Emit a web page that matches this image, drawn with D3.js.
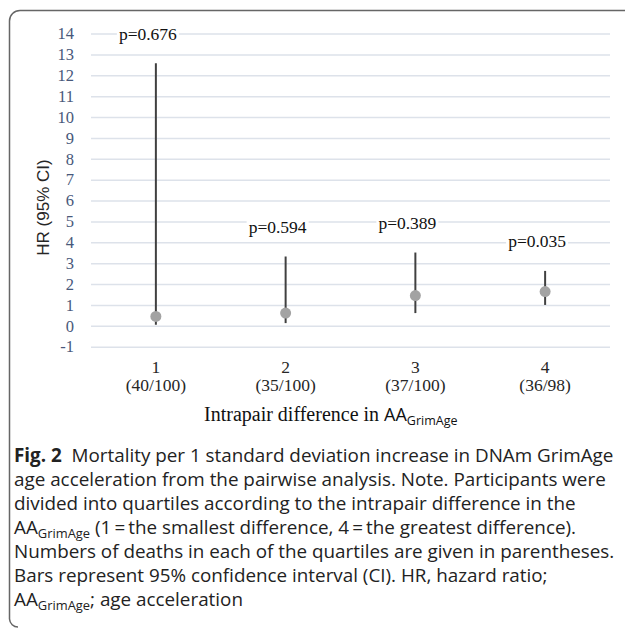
<!DOCTYPE html>
<html>
<head>
<meta charset="utf-8">
<script src="https://cdn.jsdelivr.net/npm/d3@7"></script>
<style>
  body { margin: 0; background: #fff; }
  svg { display: block; }
  .tick line { stroke: #dde2ea; stroke-width: 1.5; }
</style>
</head>
<body>
<svg id="fig"></svg>
<script>
// values
var quartiles = ["1", "2", "3", "4"];
var deaths = ["(40/100)", "(35/100)", "(37/100)", "(36/98)"];
var hr = [0.45, 0.61, 1.45, 1.64];
var ciLow = [0.05, 0.13, 0.61, 1.0];
var ciHigh = [12.58, 3.32, 3.51, 2.63];
var pValues = ["p=0.676", "p=0.594", "p=0.389", "p=0.035"];
var yTicks = [-1, 0, 1, 2, 3, 4, 5, 6, 7, 8, 9, 10, 11, 12, 13, 14];

var captionLines = [
    [["b", "Fig. 2"], ["n", "  Mortality per 1 standard deviation increase in DNAm GrimAge"]],
    [["n", "age acceleration from the pairwise analysis. Note. Participants were"]],
    [["n", "divided into quartiles according to the intrapair difference in the"]],
    [["n", "AA"], ["s", "GrimAge"], ["n", " (1\u2009=\u2009the smallest difference, 4\u2009=\u2009the greatest difference)."]],
    [["n", "Numbers of deaths in each of the quartiles are given in parentheses."]],
    [["n", "Bars represent 95% confidence interval (CI). HR, hazard ratio;"]],
    [["n", "AA"], ["s", "GrimAge"], ["n", "; age acceleration"]]
];

var makeTranslateString = function(x, y)
{
    return "translate(" + x + "," + y + ")";
}

var serif = "'Liberation Serif', 'Times New Roman', serif";
var sans = "'Liberation Sans', Arial, sans-serif";
var capFont = "'Open Sans', 'Noto Sans', sans-serif";

var drawFrame = function(svg, screen)
{
    svg.append("path")
        .attr("d", "M18," + (screen.height - 1) + " A8.5,8.5 0 0 1 9.5," + (screen.height - 9) +
              " L9.5,21 A10.5,10.5 0 0 1 20,10.5 L" + screen.width + ",10.5")
        .attr("fill", "none")
        .attr("stroke", "#666")
        .attr("stroke-width", 1.5);
}

var drawAxes = function(target, graph, xScale, yScale)
{
    var yAxis = d3.axisLeft(yScale)
        .tickValues(yTicks)
        .tickFormat(function(d) { return String(d); })
        .tickSize(-graph.width)
        .tickPadding(17);

    var yg = target.append("g").call(yAxis);
    yg.select(".domain").remove();
    yg.selectAll(".tick text")
        .attr("font-family", serif)
        .attr("font-size", 16.5)
        .attr("fill", "#48587a");

    var xAxis = d3.axisBottom(xScale).tickSize(0);
    var xg = target.append("g")
        .attr("transform", makeTranslateString(0, graph.height))
        .call(xAxis);
    xg.select(".domain").remove();
    xg.selectAll(".tick line").remove();
    xg.selectAll(".tick text")
        .attr("y", null)
        .attr("dy", null)
        .attr("font-family", serif)
        .attr("font-size", 17.5)
        .attr("fill", "#262626")
        .text(null)
        .each(function(q, i)
        {
            var t = d3.select(this);
            t.append("tspan").attr("x", 0).attr("y", 26.6).text(q);
            t.append("tspan").attr("x", 0).attr("y", 44).text(deaths[i]);
        });
}

var drawIntervals = function(target, xScale, yScale)
{
    var rows = quartiles.map(function(q, i)
    {
        return {q: q, hr: hr[i], lo: ciLow[i], hi: ciHigh[i], p: pValues[i]};
    });
    var cx = function(d) { return xScale(d.q) + xScale.bandwidth() / 2; };

    target.selectAll("line.ci")
        .data(rows)
        .enter()
        .append("line")
        .classed("ci", true)
        .attr("x1", cx)
        .attr("x2", cx)
        .attr("y1", function(d) { return yScale(d.lo); })
        .attr("y2", function(d) { return yScale(d.hi); })
        .attr("stroke", "#404040")
        .attr("stroke-width", 2);

    target.selectAll("circle")
        .data(rows)
        .enter()
        .append("circle")
        .attr("cx", cx)
        .attr("cy", function(d) { return yScale(d.hr); })
        .attr("r", 5.5)
        .attr("fill", "#a3a3a3");

    var labels = target.selectAll("g.plab")
        .data(rows)
        .enter()
        .append("g")
        .classed("plab", true)
        .attr("transform", function(d)
        {
            return makeTranslateString(cx(d) - 8, yScale(d.hi) - 29);
        });
    labels.append("rect")
        .attr("x", -31)
        .attr("y", -9)
        .attr("width", 62)
        .attr("height", 18)
        .attr("fill", "#fff");
    labels.append("text")
        .text(function(d) { return d.p; })
        .attr("text-anchor", "middle")
        .attr("y", 5.5)
        .attr("font-family", serif)
        .attr("font-size", 17.5)
        .attr("fill", "#111");
}

var drawLabels = function(svg, margins, graph)
{
    svg.append("text")
        .text("HR (95% CI)")
        .attr("text-anchor", "middle")
        .attr("dominant-baseline", "central")
        .attr("transform", "translate(43,207.5) rotate(270)")
        .attr("font-family", sans)
        .attr("font-size", 17)
        .attr("fill", "#262626");

    var xt = svg.append("text")
        .attr("x", 204)
        .attr("y", 421)
        .attr("fill", "#111");
    xt.append("tspan")
        .attr("font-family", serif)
        .attr("font-size", 20)
        .text("Intrapair difference in ");
    xt.append("tspan")
        .attr("font-family", capFont)
        .attr("font-size", 18)
        .text("AA");
    xt.append("tspan")
        .attr("font-family", capFont)
        .attr("font-size", 12.5)
        .attr("dy", 4)
        .text("GrimAge");
}

var drawCaption = function(svg)
{
    var cap = svg.append("g").classed("caption", true);
    var texts = cap.selectAll("text")
        .data(captionLines)
        .enter()
        .append("text")
        .attr("font-family", capFont)
        .attr("font-size", 19)
        .attr("fill", "#222")
        .attr("xml:space", "preserve");

    texts.each(function(parts)
    {
        var t = d3.select(this);
        var sub = false;
        parts.forEach(function(p)
        {
            var s = t.append("tspan").text(p[1]);
            if (p[0] == "b") s.attr("font-weight", "bold");
            if (p[0] == "s") { s.attr("font-size", 13).attr("dy", 4); sub = true; }
            else if (sub) { s.attr("dy", -4); sub = false; }
        });
    });

    // squeeze the sans face to the narrow width of the journal font
    var natural = texts.nodes()[0].getComputedTextLength();
    var k = 600 / natural;
    texts.attr("transform", function(d, i)
    {
        return makeTranslateString(14, 462 + i * 24) + " scale(" + k + ",1)";
    });
}

var initGraph = function()
{
    var screen = {width: 625, height: 628};
    var margins = {left: 91, right: 15, top: 33.5, bottom: 281.3};
    var graph =
        {
            width: screen.width - margins.left - margins.right,
            height: screen.height - margins.top - margins.bottom
        };

    var svg = d3.select("#fig")
        .attr("width", screen.width)
        .attr("height", screen.height);

    drawFrame(svg, screen);

    var target = svg.append("g")
        .attr("transform", makeTranslateString(margins.left, margins.top));

    var xScale = d3.scaleBand()
        .domain(quartiles)
        .range([0, graph.width]);

    var yScale = d3.scaleLinear()
        .domain([-1, 14])
        .range([graph.height, 0]);

    drawAxes(target, graph, xScale, yScale);
    drawIntervals(target, xScale, yScale);
    drawLabels(svg, margins, graph);
    drawCaption(svg);
}

initGraph();
</script>
</body>
</html>
